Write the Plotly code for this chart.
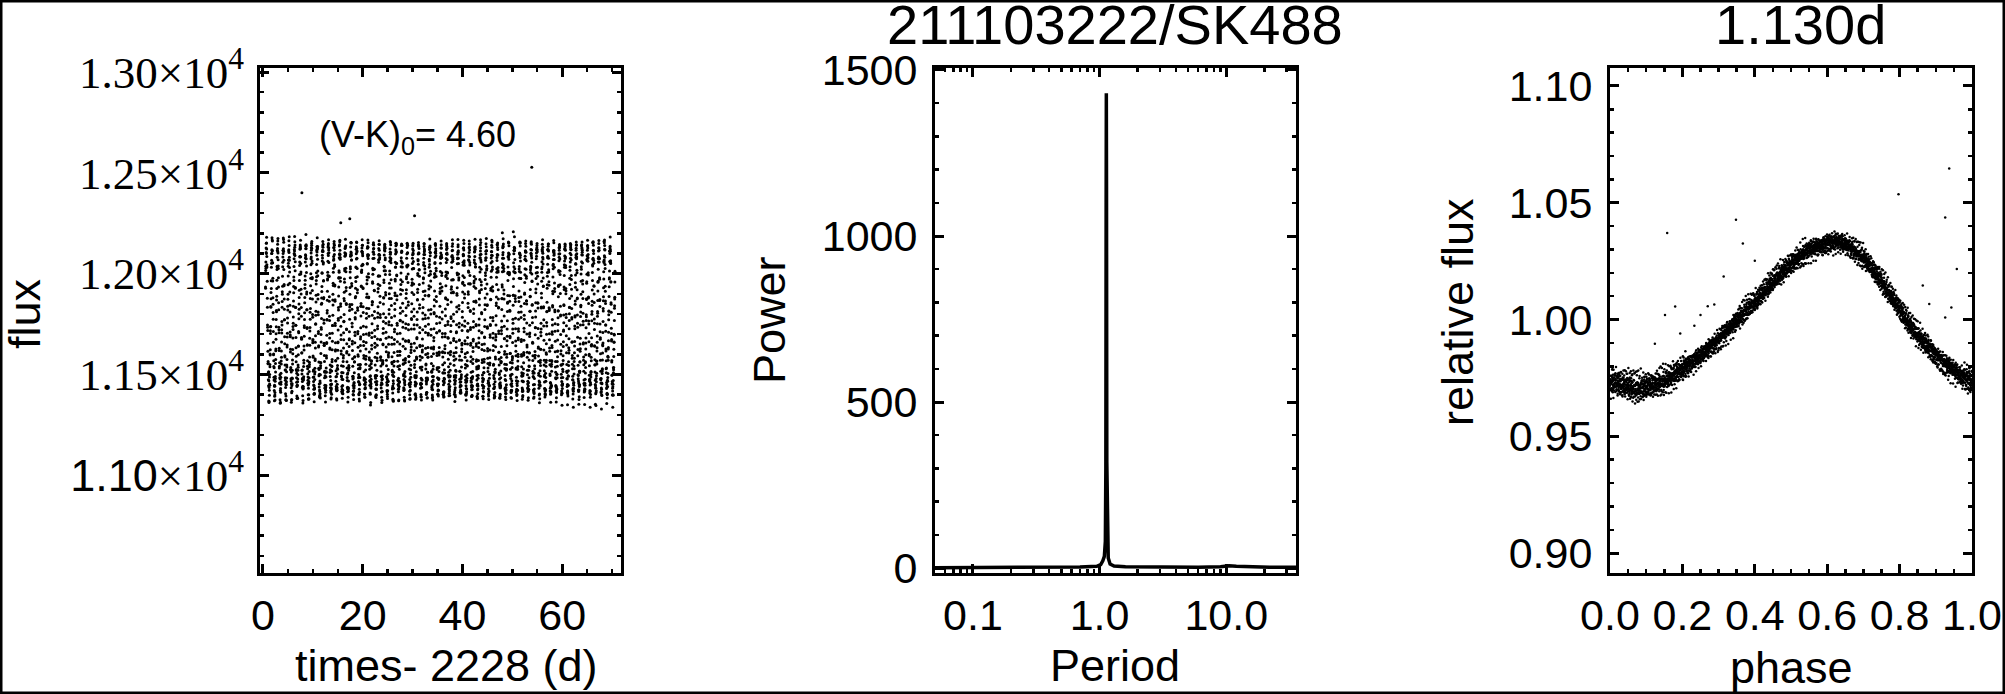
import numpy as np
import plotly.graph_objects as go

W, H = 2005, 694

# ---------------- data ----------------
# light-curve sampling (days since 2228) and K2 long cadence
lc_t_start = 0.5
lc_t_end = 70.6
lc_cadence = 0.02043
rot_period = 1.130          # days (peak of periodogram)
flux_level = 11750.0        # median flux of the light curve

# folded light-curve band (centre and half width)
fold_phase = [0.00, 0.04, 0.08, 0.12, 0.16, 0.20, 0.25, 0.30, 0.35, 0.40, 0.45, 0.50,
              0.55, 0.60, 0.63, 0.66, 0.70, 0.74, 0.78, 0.82, 0.86, 0.90, 0.94, 0.97, 1.00]
fold_relflux = [0.9734, 0.9716, 0.9705, 0.9715, 0.9745, 0.9790, 0.9848, 0.9915, 0.9995,
                1.0075, 1.0160, 1.0240, 1.0300, 1.0330, 1.0335, 1.0315, 1.0262, 1.0185,
                1.0090, 0.9995, 0.9915, 0.9850, 0.9795, 0.9760, 0.9734]
fold_halfwidth = [0.0034, 0.0037, 0.0037, 0.0034, 0.0031, 0.0030, 0.0029, 0.0028, 0.0028,
                  0.0028, 0.0028, 0.0028, 0.0028, 0.0028, 0.0028, 0.0028, 0.0028, 0.0028,
                  0.0028, 0.0028, 0.0028, 0.0029, 0.0030, 0.0031, 0.0034]
# hand-typed scatter offsets (in units of the band half width), two interleaved cycles
scatter_pattern = [0.12, -0.45, 0.68, -0.05, 0.33, -1.25, 0.21, -0.27, 0.55, -0.61, 0.02,
                   1.42, -0.38, 0.15, -0.72, 0.44, -0.14, 0.79, -0.53, 0.27, -1.65, 0.06,
                   0.61, -0.22, 0.38, -0.96, -0.09, 1.05, -0.35, 0.49, -0.18, 1.78, -0.83,
                   0.93, -1.12, 0.25, -0.58]
scatter_pattern2 = [0.37, -0.81, 0.05, 0.64, -0.29, -0.52, 0.88, -0.11, 0.23, -0.94, 0.46,
                    -0.03, 0.72, -0.66, 0.14, -0.41, 0.97, -0.19, 0.31, -0.75, 0.58, -0.36,
                    0.09]

# isolated points in the light curve
lc_outlier_t = [7.8, 15.6, 17.4, 30.4, 48.0, 50.2, 53.9]
lc_outlier_flux = [12401, 12252, 12272, 12287, 12203, 12208, 12528]

# isolated points in the folded curve
ph_outlier_phase = [0.124, 0.152, 0.158, 0.180, 0.194, 0.233, 0.250, 0.270, 0.288, 0.314,
                    0.348, 0.367, 0.400, 0.797, 0.864, 0.882, 0.926, 0.926, 0.937, 0.943, 0.958]
ph_outlier_flux = [0.9896, 1.0020, 1.0371, 1.0056, 0.9940, 0.9974, 1.0020, 1.0057, 1.0064,
                   1.0184, 1.0427, 1.0326, 1.0252, 1.0536, 1.0146, 1.0067, 1.0437, 1.0009,
                   1.0647, 1.0052, 1.0217]

# periodogram
pg_period = [0.0502, 0.07, 0.10, 0.20, 0.40, 0.70, 0.95, 1.02, 1.06, 1.09, 1.11, 1.12,
             1.126, 1.130, 1.134, 1.14, 1.15, 1.17, 1.21, 1.30, 1.60, 3.0, 6.0, 9.0,
             10.5, 12.0, 15.0, 22.0, 35.5]
pg_power = [1, 1, 2, 1, 2, 3, 5, 10, 22, 35, 80, 300, 1100, 1430, 1150, 320, 90, 30, 12,
            6, 4, 3, 2, 4, 7, 5, 3, 2, 2]

# tick labels
lc_ytick_vals = [11000, 11500, 12000, 12500, 13000]
lc_ytick_text = ['<span style="font-family:Liberation Sans">1.10</span>\u00d710<sup>4</sup>',
                 '1.15\u00d710<sup>4</sup>', '1.20\u00d710<sup>4</sup>',
                 '1.25\u00d710<sup>4</sup>', '1.30\u00d710<sup>4</sup>']
lc_xtick_vals = [0, 20, 40, 60]
pg_xtick_vals = [0.1, 1.0, 10.0]
pg_xtick_text = ['0.1', '1.0', '10.0']
pg_ytick_vals = [0, 500, 1000, 1500]
ph_xtick_vals = [0.0, 0.2, 0.4, 0.6, 0.8, 1.0]
ph_xtick_text = ['0.0', '0.2', '0.4', '0.6', '0.8', '1.0']
ph_ytick_vals = [0.90, 0.95, 1.00, 1.05, 1.10]
ph_ytick_text = ['0.90', '0.95', '1.00', '1.05', '1.10']

# ---------------- derived series ----------------
t = np.arange(lc_t_start, lc_t_end, lc_cadence)
phase = np.mod(t / rot_period, 1.0)
centre = np.interp(phase, fold_phase, fold_relflux)
halfw = np.interp(phase, fold_phase, fold_halfwidth)
offs = (np.resize(np.array(scatter_pattern), t.size)
        + 0.6 * np.resize(np.array(scatter_pattern2), t.size))
rel = centre + offs * halfw
flux = flux_level * rel

lc_x = np.concatenate([t, lc_outlier_t])
lc_y = np.concatenate([flux, lc_outlier_flux])
ph_x = np.concatenate([phase, ph_outlier_phase])
ph_y = np.concatenate([rel, ph_outlier_flux])


def px(x):
    return x / W


def py(y):
    return 1 - y / H


SANS = "Liberation Sans"
SERIF = "Liberation Serif"

fig = go.Figure()
fig.add_trace(go.Scatter(x=lc_x, y=lc_y, mode="markers",
                         marker=dict(size=3, color="black", line=dict(width=0)),
                         xaxis="x", yaxis="y"))
fig.add_trace(go.Scatter(x=pg_period, y=pg_power, mode="lines",
                         line=dict(color="black", width=3.5),
                         xaxis="x2", yaxis="y2"))
fig.add_trace(go.Scatter(x=ph_x, y=ph_y, mode="markers",
                         marker=dict(size=2.5, color="black", line=dict(width=0)),
                         xaxis="x3", yaxis="y3"))


def axstyle(**kw):
    d = dict(showline=True, linewidth=3, linecolor="black", mirror="allticks",
             ticks="inside", ticklen=9, tickwidth=3, tickcolor="black",
             showgrid=False, zeroline=False, automargin=False,
             tickfont=dict(family=SANS, size=43, color="black"))
    d.update(kw)
    return d


def minor(**kw):
    d = dict(ticks="inside", ticklen=4, tickwidth=2.5, tickcolor="black", showgrid=False)
    d.update(kw)
    return d


top, bot = 68, 573
ydom = [py(bot), py(top)]

fig.update_layout(
    template="none",
    width=W, height=H, margin=dict(l=0, r=0, t=0, b=0, pad=0), autosize=False,
    paper_bgcolor="white", plot_bgcolor="white", showlegend=False,
    xaxis=axstyle(domain=[px(260), px(621)], range=[-0.6, 71.8],
                  tickmode="array", tickvals=lc_xtick_vals,
                  minor=minor(dtick=5), ticklabelstandoff=2, anchor="y"),
    yaxis=axstyle(domain=ydom, range=[10515, 13020], tickmode="array",
                  tickvals=lc_ytick_vals, ticktext=lc_ytick_text,
                  tickfont=dict(family=SERIF, size=45, color="black"),
                  minor=minor(dtick=100), ticklabelstandoff=4, anchor="x"),
    xaxis2=axstyle(domain=[px(935), px(1296)], type="log",
                   range=[np.log10(0.0502), np.log10(35.5)],
                   tickmode="array", tickvals=pg_xtick_vals, ticktext=pg_xtick_text,
                   minor=minor(tickmode="array",
                               tickvals=[0.06, 0.07, 0.08, 0.09, 0.2, 0.3, 0.4, 0.5, 0.6,
                                         0.7, 0.8, 0.9, 2, 3, 4, 5, 6, 7, 8, 9, 20, 30]),
                   ticklabelstandoff=2, anchor="y2"),
    yaxis2=axstyle(domain=ydom, range=[-15, 1506], tickmode="array",
                   tickvals=pg_ytick_vals, minor=minor(dtick=100),
                   ticklabelstandoff=6, anchor="x2"),
    xaxis3=axstyle(domain=[px(1610), px(1972)], range=[0.0, 1.0],
                   tickmode="array", tickvals=ph_xtick_vals, ticktext=ph_xtick_text,
                   minor=minor(dtick=0.05), ticklabelstandoff=2, anchor="y3"),
    yaxis3=axstyle(domain=ydom, range=[0.8915, 1.1077], tickmode="array",
                   tickvals=ph_ytick_vals, ticktext=ph_ytick_text,
                   minor=minor(dtick=0.01), ticklabelstandoff=6, anchor="x3"),
)

ann = []


def add_text(text, x, y, size, angle=0, family=SANS):
    ann.append(dict(text=text, x=px(x), y=py(y), xref="paper", yref="paper",
                    xanchor="center", yanchor="middle", showarrow=False,
                    textangle=angle, font=dict(family=family, size=size, color="black")))


add_text("211103222/SK488", 1115, 25, 56)
add_text("1.130d", 1800, 25, 56)
add_text("(V-K)<sub>0</sub>= 4.60", 417, 137, 36)
add_text("times- 2228 (d)", 446, 665, 45)
add_text("Period", 1115, 665, 45)
add_text("phase", 1791, 667, 45)
add_text("flux", 25, 314, 45, angle=-90)
add_text("Power", 769, 320, 45, angle=-90)
add_text("relative flux", 1457, 312, 45, angle=-90)
fig.update_layout(annotations=ann)

fig.add_shape(type="rect", xref="paper", yref="paper", x0=0, x1=1, y0=0, y1=1,
              line=dict(color="black", width=5), layer="above")

fig.write_html("out.html", config={"displayModeBar": False, "staticPlot": True},
               post_script="document.body.style.margin='0';"
                           "document.body.style.overflow='hidden';")
